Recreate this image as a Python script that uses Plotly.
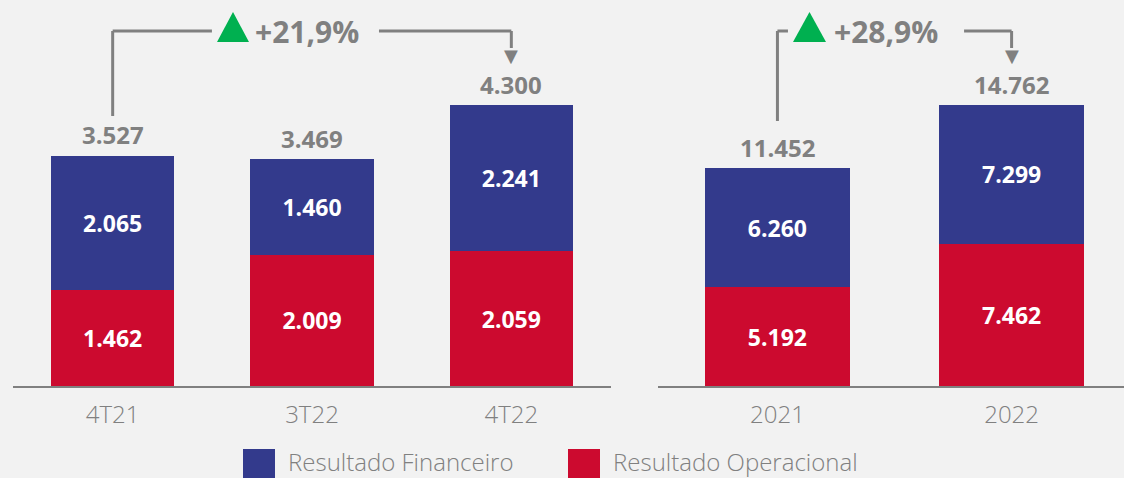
import plotly.graph_objects as go

# ---- data ----
quarters = ["4T21", "3T22", "4T22"]
quarter_operacional = [1462, 2009, 2059]
quarter_financeiro = [2065, 1460, 2241]
quarter_totals = [3527, 3469, 4300]

years = ["2021", "2022"]
year_operacional = [5192, 7462]
year_financeiro = [6260, 7299]
year_totals = [11452, 14762]

series_names = ["Resultado Financeiro", "Resultado Operacional"]

# ---- style ----
W, H = 1124, 478
BLUE = "#333A8C"
RED = "#CC0A2F"
GREEN = "#00B050"
GRAY = "#808080"
BG = "#F2F2F2"
NUM_FONT = "Open Sans"
LBL_FONT = "Open Sans"


def fx(p):
    return p / W


def fy(p):
    return 1 - p / H


def fmt(v):
    return f"{v:,.0f}".replace(",", ".")


def pct(a, b):
    return f"+{(b / a - 1) * 100:.1f}%".replace(".", ",")


fig = go.Figure()

inside_font = dict(family=NUM_FONT, size=23, color="white", weight="bold")

for cats, op, fin, xa, ya in [
    (quarters, quarter_operacional, quarter_financeiro, "x", "y"),
    (years, year_operacional, year_financeiro, "x2", "y2"),
]:
    fig.add_trace(go.Bar(
        x=cats, y=op, name=series_names[1], marker_color=RED,
        marker_line_width=0, text=[fmt(v) for v in op],
        textposition="inside", insidetextanchor="middle",
        textfont=inside_font, constraintext="none",
        xaxis=xa, yaxis=ya, showlegend=False, hoverinfo="skip"))
    fig.add_trace(go.Bar(
        x=cats, y=fin, name=series_names[0], marker_color=BLUE,
        marker_line_width=0, text=[fmt(v) for v in fin],
        textposition="inside", insidetextanchor="middle",
        textfont=inside_font, constraintext="none",
        xaxis=xa, yaxis=ya, showlegend=False, hoverinfo="skip"))

annotations = []
shapes = []

# totals above bars (x given as category index)
for cats, tots, xr, yr in [(quarters, quarter_totals, "x", "y"),
                           (years, year_totals, "x2", "y2")]:
    for i, t in enumerate(tots):
        annotations.append(dict(
            x=i, y=t, xref=xr, yref=yr, text=fmt(t), showarrow=False,
            yanchor="middle", yshift=21,
            font=dict(family=NUM_FONT, size=24, color=GRAY, weight="bold")))

line_style = dict(color=GRAY, width=3)


def bracket(xref, x_start, x_gap_a, x_gap_b, x_end, y_start_px, tri_px, text_px, label):
    ytop = fy(31)
    shapes.append(dict(type="line", xref=xref, yref="paper", x0=x_start, x1=x_start,
                       y0=fy(y_start_px), y1=ytop, line=line_style))
    shapes.append(dict(type="line", xref=xref, yref="paper", x0=x_start, x1=x_gap_a,
                       y0=ytop, y1=ytop, line=line_style))
    shapes.append(dict(type="line", xref=xref, yref="paper", x0=x_gap_b, x1=x_end,
                       y0=ytop, y1=ytop, line=line_style))
    shapes.append(dict(type="line", xref=xref, yref="paper", x0=x_end, x1=x_end,
                       y0=ytop, y1=fy(48), line=line_style))
    annotations.append(dict(x=x_end, y=fy(48), xref=xref, yref="paper", text="▼",
                            showarrow=False, yanchor="top", yshift=5,
                            font=dict(family="DejaVu Sans", size=18, color=GRAY)))
    tx0, tx1 = tri_px
    shapes.append(dict(type="path", xref="paper", yref="paper",
                       path=f"M {fx(tx0)},{fy(42)} L {fx(tx1)},{fy(42)} L {fx((tx0 + tx1) / 2)},{fy(12)} Z",
                       fillcolor=GREEN, line=dict(width=0)))
    annotations.append(dict(x=fx(text_px), y=fy(32), xref="paper", yref="paper",
                            text=label, showarrow=False, xanchor="left", yanchor="middle",
                            font=dict(family=NUM_FONT, size=30, color=GRAY, weight="bold")))


bracket("x", 0, 0.498, 1.336, 2, 116, (217, 249), 253,
        pct(quarter_totals[0], quarter_totals[-1]))
bracket("x2", 0, 0.045, 0.797, 1, 121, (793, 826), 832,
        pct(year_totals[0], year_totals[-1]))

# custom legend
for (x0, x1), color, tx, name in [((243, 275), BLUE, 286, series_names[0]),
                                  ((568, 600), RED, 611, series_names[1])]:
    shapes.append(dict(type="rect", xref="paper", yref="paper", x0=fx(x0), x1=fx(x1),
                       y0=fy(480), y1=fy(449), fillcolor=color, line=dict(width=0)))
    annotations.append(dict(x=fx(tx), y=fy(461), xref="paper", yref="paper", text=name,
                            showarrow=False, xanchor="left", yanchor="middle",
                            font=dict(family=LBL_FONT, size=24, color=GRAY, weight=300)))

baseline = 386
ydom = [fy(baseline), 1]
axis_common = dict(type="category", showline=True, linecolor=GRAY, linewidth=1.5,
                   showgrid=False, zeroline=False, ticks="", fixedrange=True,
                   tickfont=dict(family=LBL_FONT, size=24, color=GRAY, weight=300),
                   ticklabelstandoff=6)

fig.update_layout(
    width=W, height=H, margin=dict(l=0, r=0, t=0, b=0),
    paper_bgcolor=BG, plot_bgcolor=BG,
    barmode="stack", bargap=0.38, showlegend=False,
    separators=",.",
    xaxis=dict(domain=[fx(13), fx(611)], range=[-0.5, 2.5], anchor="y", **axis_common),
    xaxis2=dict(domain=[fx(658), 1], range=[-0.51, 1.48], anchor="y2", **axis_common),
    yaxis=dict(domain=ydom, range=[0, 5907], visible=False, fixedrange=True),
    yaxis2=dict(domain=ydom, range=[0, 20278], visible=False, fixedrange=True, anchor="x2"),
    annotations=annotations, shapes=shapes,
)

fig.write_html("out.html", config={"displayModeBar": False},
               post_script="document.body.style.margin='0';document.body.style.overflow='hidden';")
